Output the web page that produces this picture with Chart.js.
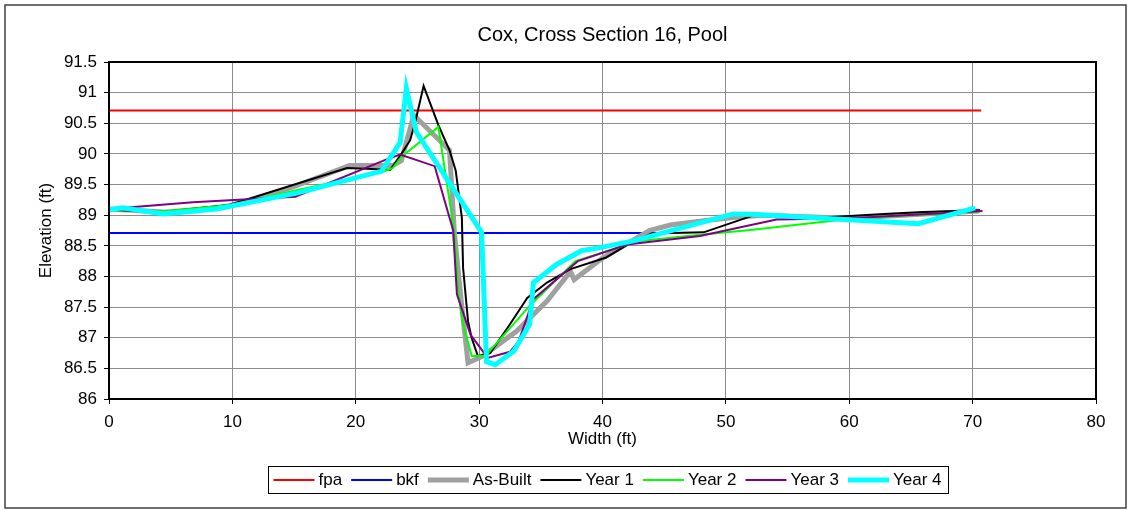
<!DOCTYPE html>
<html><head><meta charset="utf-8">
<script src="https://cdn.jsdelivr.net/npm/chart.js@4/dist/chart.umd.min.js"></script>
<style>html,body{margin:0;padding:0;background:#fff}#wrap{width:1130px;height:510px}</style>
</head><body><div id="wrap"><canvas id="c" width="1130" height="510"></canvas></div>
<script>
const chartTitle = 'Cox, Cross Section 16, Pool';
const xAxisTitle = 'Width (ft)';
const yAxisTitle = 'Elevation (ft)';
const xTickValues = [0, 10, 20, 30, 40, 50, 60, 70, 80];
const yTickValues = [86, 86.5, 87, 87.5, 88, 88.5, 89, 89.5, 90, 90.5, 91, 91.5];
const yTickLabels = ['86', '86.5', '87', '87.5', '88', '88.5', '89', '89.5', '90', '90.5', '91', '91.5'];

const seriesNames = ['fpa', 'bkf', 'As-Built', 'Year 1', 'Year 2', 'Year 3', 'Year 4'];

const fpaX = [0, 70.7];
const fpaY = [90.71, 90.71];
const bkfX = [0, 45];
const bkfY = [88.71, 88.71];

const asBuiltX = [0, 4.4, 9, 12, 14.9, 19.5, 23, 23.7, 24.7, 26.8, 27.6, 28.0, 28.6, 29.1, 30.3, 33, 35.5, 37.4, 37.7, 40, 43.8, 45.5, 48.2, 50.6, 53, 60, 70.5];
const asBuiltY = [89.1, 89.05, 89.12, 89.27, 89.46, 89.81, 89.81, 89.89, 90.63, 90.22, 90.06, 88.7, 87.5, 86.59, 86.7, 87.1, 87.6, 88.08, 87.95, 88.3, 88.75, 88.84, 88.91, 88.96, 89.0, 88.95, 89.07];

const year1X = [0, 4.4, 9.8, 19.3, 22.8, 23.7, 24.4, 24.8, 25.5, 26.7, 27.6, 28.1, 28.6, 28.7, 29.1, 29.4, 29.9, 30.9, 32.5, 33.9, 35.5, 37.4, 40.3, 42.2, 44, 48.2, 52, 52.5, 57.6, 62.8, 66, 70.6];
const year1Y = [89.09, 89.05, 89.17, 89.77, 89.74, 90.0, 90.22, 90.5, 91.11, 90.47, 90.06, 89.73, 88.96, 88.14, 87.27, 86.99, 86.7, 86.75, 87.22, 87.65, 87.9, 88.12, 88.31, 88.54, 88.7, 88.72, 88.98, 89.02, 88.96, 89.02, 89.05, 89.08];

const year2X = [0, 4.4, 10, 15, 22.1, 23, 23.7, 26.7, 27.4, 28.0, 28.3, 28.7, 29.4, 30.5, 34, 37.8, 43, 47.9, 52, 60.1, 70.6];
const year2Y = [89.1, 89.06, 89.17, 89.4, 89.7, 89.77, 89.95, 90.44, 89.5, 88.72, 87.76, 87.22, 86.7, 86.7, 87.5, 88.25, 88.58, 88.68, 88.76, 88.94, 89.06];

const year3X = [0, 6.8, 12, 15.1, 22.6, 23.6, 26.4, 27.9, 28.2, 29.3, 30.7, 32.5, 33.2, 34.4, 38, 42, 47.9, 54.1, 60.1, 70.8];
const year3Y = [89.1, 89.21, 89.27, 89.3, 89.92, 89.99, 89.8, 88.75, 87.71, 87.05, 86.67, 86.77, 86.94, 87.63, 88.25, 88.52, 88.66, 88.93, 88.95, 89.07];

const year4X = [0, 1.1, 4.4, 8.7, 15.2, 22.1, 23.6, 24.1, 24.9, 30.2, 30.6, 31.3, 32.8, 34.1, 34.4, 36.3, 38.3, 39.8, 42.5, 50.6, 52.5, 65.6, 70.2];
const year4Y = [89.09, 89.12, 89.02, 89.1, 89.36, 89.72, 90.19, 91.07, 90.36, 88.72, 86.61, 86.56, 86.78, 87.22, 87.9, 88.2, 88.42, 88.47, 88.58, 89.02, 89.01, 88.86, 89.12];

const seriesX = [fpaX, bkfX, asBuiltX, year1X, year2X, year3X, year4X];
const seriesY = [fpaY, bkfY, asBuiltY, year1Y, year2Y, year3Y, year4Y];
const seriesColors = ['#ff0000', '#0000ff', '#a0a0a0', '#000000', '#00ff00', '#800080', '#00ffff'];
const seriesWidths = [2, 2, 5, 2, 2, 2, 5];

const FONT = 'Liberation Sans, Arial, sans-serif';

const datasets = seriesNames.map((name, i) => ({
  label: name,
  data: seriesX[i].map((x, j) => ({x: x, y: seriesY[i][j]})),
  borderColor: seriesColors[i],
  backgroundColor: seriesColors[i],
  borderWidth: seriesWidths[i],
  showLine: true,
  pointRadius: 0,
  pointHoverRadius: 0,
  tension: 0,
  fill: false,
  order: seriesNames.length - i
}));

const framePlugin = {
  id: 'frame',
  beforeDraw(chart) {
    const ctx = chart.ctx;
    ctx.save();
    ctx.fillStyle = '#fff';
    ctx.fillRect(0, 0, chart.width, chart.height);
    ctx.strokeStyle = '#404040';
    ctx.lineWidth = 1.5;
    ctx.strokeRect(5, 5, 1121, 503);
    ctx.fillStyle = '#000';
    ctx.font = '20px ' + FONT;
    ctx.textAlign = 'center';
    ctx.textBaseline = 'middle';
    const a = chart.chartArea;
    ctx.fillText(chartTitle, (a.left + a.right) / 2, 35);
    ctx.restore();
  },
  afterDraw(chart) {
    const ctx = chart.ctx;
    const a = chart.chartArea;
    ctx.save();
    ctx.strokeStyle = '#000';
    ctx.lineWidth = 2;
    ctx.strokeRect(a.left, a.top, a.right - a.left, a.bottom - a.top);
    // legend
    ctx.font = '17px ' + FONT;
    const sampleLen = 41, gapAfterSample = 4, gapAfterText = 9, padX = 6;
    let total = 0;
    const widths = seriesNames.map(n => ctx.measureText(n).width);
    widths.forEach((w, i) => { total += sampleLen + gapAfterSample + w + (i < widths.length - 1 ? gapAfterText : 0); });
    const cx = 607.5, top = 466, bottom = 493;
    const left = cx - total / 2 - padX;
    ctx.lineWidth = 1;
    ctx.strokeStyle = '#000';
    ctx.strokeRect(Math.round(left) + 0.5, top + 0.5, Math.round(total + 2 * padX), bottom - top);
    let x = left + padX;
    const ly = (top + bottom) / 2 + 0.5;
    ctx.textAlign = 'left';
    ctx.textBaseline = 'middle';
    seriesNames.forEach((n, i) => {
      ctx.strokeStyle = seriesColors[i];
      ctx.lineWidth = seriesWidths[i];
      ctx.beginPath();
      ctx.moveTo(x, ly);
      ctx.lineTo(x + sampleLen, ly);
      ctx.stroke();
      x += sampleLen + gapAfterSample;
      ctx.fillStyle = '#000';
      ctx.fillText(n, x, ly);
      x += widths[i] + gapAfterText;
    });
    ctx.restore();
  }
};

new Chart(document.getElementById('c'), {
  type: 'scatter',
  data: { datasets },
  options: {
    responsive: false,
    animation: false,
    devicePixelRatio: 1,
    layout: { padding: { left: 36, right: 34, top: 62, bottom: 60 } },
    plugins: { legend: { display: false }, tooltip: { enabled: false }, title: { display: false } },
    scales: {
      x: {
        type: 'linear', min: 0, max: 80,
        afterBuildTicks: s => { s.ticks = xTickValues.map(v => ({value: v})); },
        afterFit: s => { s.height = 51; },
        ticks: { color: '#000', font: { family: FONT, size: 17 }, padding: 8, maxRotation: 0,
                 callback: v => String(v) },
        grid: { color: '#8c8c8c', lineWidth: 1, tickColor: '#000', tickLength: 5 },
        border: { display: true, color: '#000', width: 2 },
        title: { display: true, text: xAxisTitle, color: '#000', font: { family: FONT, size: 17 }, padding: { top: 0, bottom: 0 } }
      },
      y: {
        type: 'linear', min: 86, max: 91.5,
        afterBuildTicks: s => { s.ticks = yTickValues.map(v => ({value: v})); },
        afterFit: s => { s.width = 73; },
        ticks: { color: '#000', font: { family: FONT, size: 17 }, padding: 7,
                 callback: v => yTickLabels[yTickValues.indexOf(v)] },
        grid: { color: '#8c8c8c', lineWidth: 1, tickColor: '#000', tickLength: 5 },
        border: { display: true, color: '#000', width: 2 },
        title: { display: true, text: yAxisTitle, color: '#000', font: { family: FONT, size: 17 }, padding: { top: 0, bottom: 0 } }
      }
    }
  },
  plugins: [framePlugin]
});
</script></body></html>
